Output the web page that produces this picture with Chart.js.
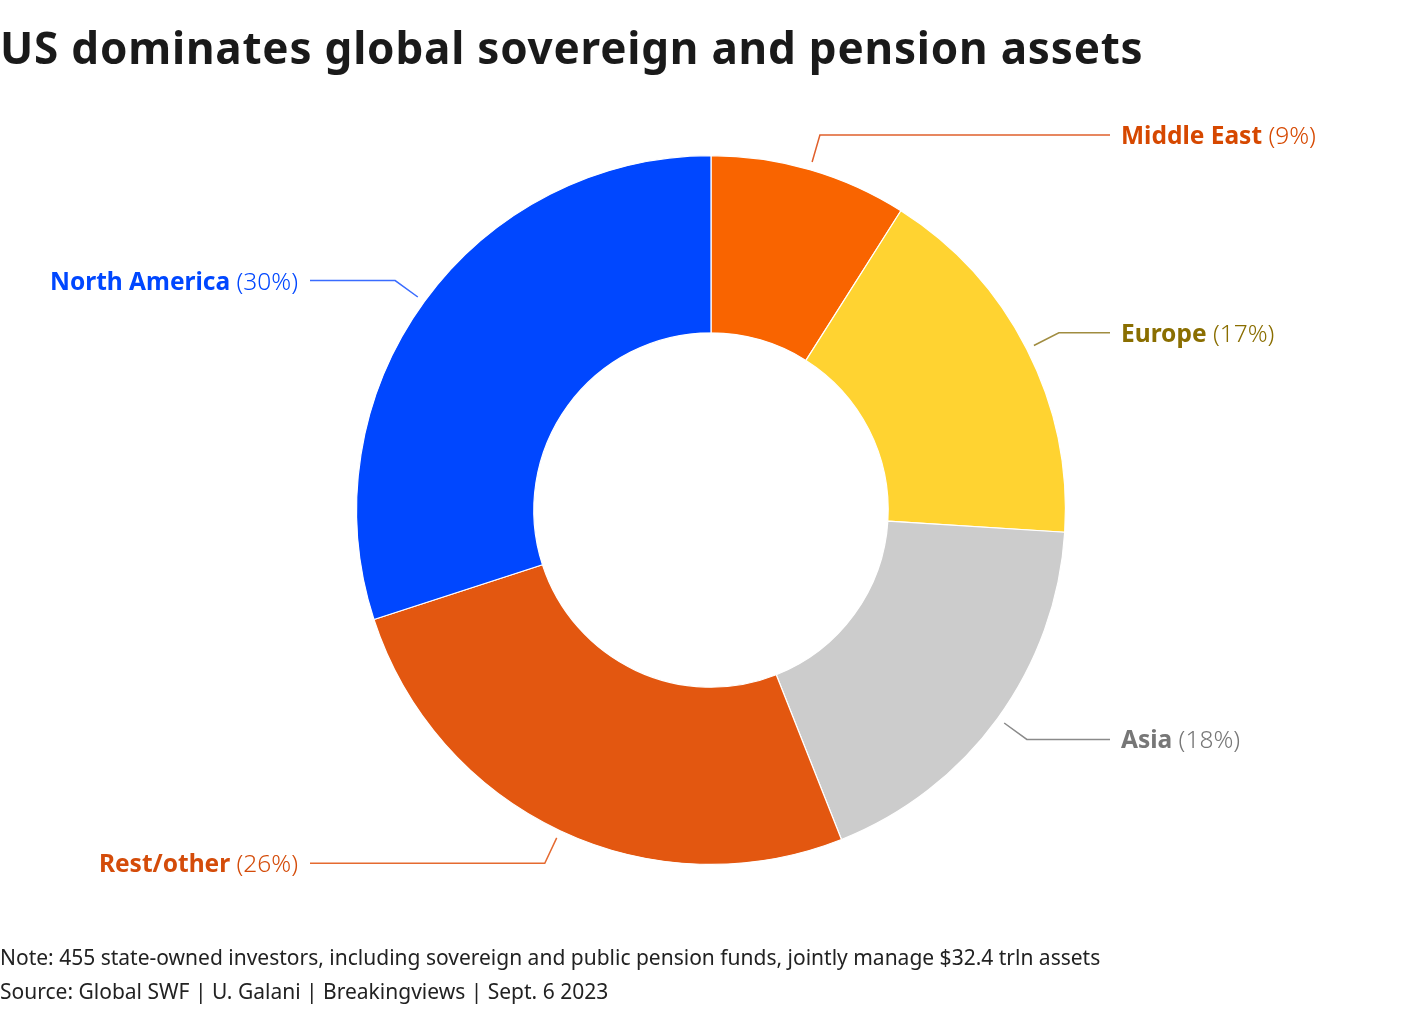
<!DOCTYPE html>
<html>
<head>
<meta charset="utf-8">
<script src="https://cdn.jsdelivr.net/npm/chart.js@4"></script>
<style>
  html, body { margin: 0; padding: 0; background: #fff; }
  body { width: 1420px; height: 1012px; position: relative; overflow: hidden; font-family: "Noto Sans", sans-serif; }
  #title { position: absolute; left: 0; top: 17px; font-size: 44px; font-weight: 700; color: #1a1a1a; letter-spacing: 0.8px; white-space: nowrap; }
  .foot { position: absolute; left: 0; font-size: 21px; color: #222; white-space: nowrap; }
  #wrap { position: absolute; left: 0; top: 0; width: 1420px; height: 1012px; }
</style>
</head>
<body>
<div id="wrap"><canvas id="donut"></canvas></div>
<div id="title">US dominates global sovereign and pension assets</div>
<div class="foot" style="top:943px">Note: 455 state-owned investors, including sovereign and public pension funds, jointly manage $32.4 trln assets</div>
<div class="foot" style="top:977px">Source: Global SWF | U. Galani | Breakingviews | Sept. 6 2023</div>
<script>
// 데이터
const regions = ['Middle East', 'Europe', 'Asia', 'Rest/other', 'North America'];
const shares = [9, 17, 18, 26, 30];
const sliceColors = ['#f96400', '#ffd331', '#cccccc', '#e35710', '#0047ff'];
const textColors = ['#d64800', '#8a6e00', '#777777', '#d44c0a', '#0047ff'];
const lineColors = ['#e0602c', '#a08c40', '#8a8a8a', '#e56a30', '#3a6cff'];
const labelFont = '"Noto Sans", sans-serif';
const labelSize = 24.5;

// 라벨 + 지시선 그리기
const calloutPlugin = {
  id: 'callouts',
  afterDatasetsDraw(chart) {
    const ctx = chart.ctx;
    const arcs = chart.getDatasetMeta(0).data;
    arcs.forEach((arc, i) => {
      const p = arc.getProps(['x', 'y', 'startAngle', 'endAngle', 'outerRadius'], true);
      const mid = (p.startAngle + p.endAngle) / 2;
      const r0 = p.outerRadius + 8, r1 = p.outerRadius + 36;
      const x0 = p.x + Math.cos(mid) * r0, y0 = p.y + Math.sin(mid) * r0;
      const x1 = p.x + Math.cos(mid) * r1, y1 = p.y + Math.sin(mid) * r1;
      const right = Math.cos(mid) > 0;
      const x2 = right ? p.x + 399 : p.x - 401;
      ctx.save();
      ctx.strokeStyle = lineColors[i];
      ctx.lineWidth = 1.5;
      ctx.beginPath();
      ctx.moveTo(x0, y0);
      ctx.lineTo(x1, y1);
      ctx.lineTo(x2, y1);
      ctx.stroke();
      const name = regions[i];
      const pct = ' (' + shares[i] + '%)';
      ctx.textBaseline = 'middle';
      ctx.fillStyle = textColors[i];
      const ty = y1 + 2;
      ctx.font = '700 ' + labelSize + 'px ' + labelFont;
      const wName = ctx.measureText(name).width;
      ctx.font = '300 ' + labelSize + 'px ' + labelFont;
      const wPct = ctx.measureText(pct).width;
      let tx = right ? x2 + 11 : x2 - 12 - wName - wPct;
      ctx.textAlign = 'left';
      ctx.font = '700 ' + labelSize + 'px ' + labelFont;
      ctx.fillText(name, tx, ty);
      ctx.font = '300 ' + labelSize + 'px ' + labelFont;
      ctx.fillText(pct, tx + wName, ty);
      ctx.restore();
    });
  }
};

new Chart(document.getElementById('donut'), {
  type: 'doughnut',
  data: {
    labels: regions,
    datasets: [{
      data: shares,
      backgroundColor: sliceColors,
      borderColor: '#ffffff',
      borderWidth: 1.2
    }]
  },
  options: {
    responsive: true,
    maintainAspectRatio: false,
    animation: false,
    cutout: '50%',
    layout: { padding: { top: 155, bottom: 147, left: 2, right: 0 } },
    plugins: { legend: { display: false }, tooltip: { enabled: false } }
  },
  plugins: [calloutPlugin]
});
</script>
</body>
</html>
